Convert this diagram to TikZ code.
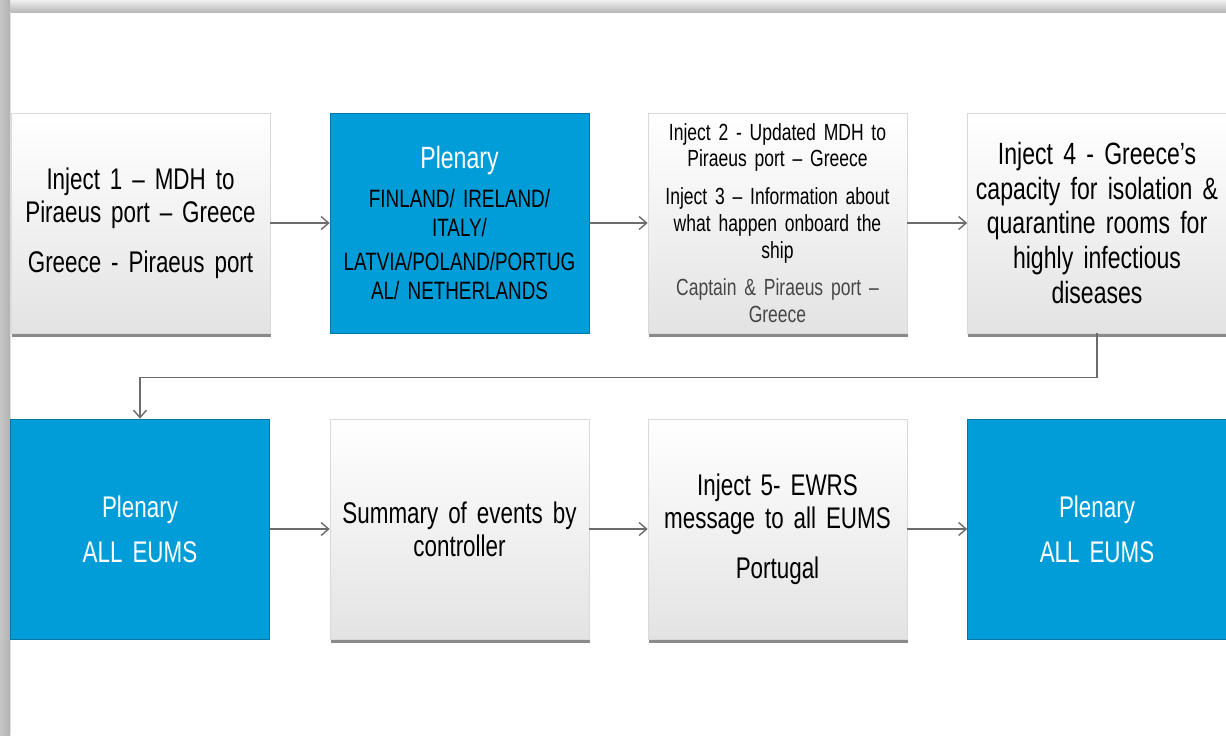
\documentclass[tikz,border=0pt]{standalone}
\usepackage{fontspec}
\setmainfont{Liberation Sans}[FakeStretch=0.75]
\usepackage{xcolor}
\usepackage{tikz}
\usetikzlibrary{positioning,arrows.meta,shadows}

\definecolor{plenblue}{RGB}{0,157,216}
\definecolor{plenedge}{RGB}{0,118,168}
\newcommand{\tightsp}{\spaceskip=0.17em plus 0.05em\relax}

\begin{document}
\begin{tikzpicture}[x=0.02cm,y=-0.02cm,
injbox/.style={draw=gray!30,top color=white,bottom color=gray!22,minimum width=5.18cm,minimum height=4.4cm,text width=4.9cm,align=center,inner sep=0pt,
  drop shadow={shadow xshift=0.5pt,shadow yshift=-2pt,opacity=0.7,fill=gray!70!black}},
plenbox/.style={draw=plenedge,fill=plenblue,minimum width=5.18cm,minimum height=4.4cm,text width=4.9cm,align=center,inner sep=0pt},
flow/.style={-{Straight Barb[length=1.5mm,width=2.6mm]},gray!85!black,line width=0.8pt},
bigtext/.style={font=\fontsize{17}{18.7}\selectfont\tightsp},
smalltext/.style={font=\fontsize{13.3}{15.2}\selectfont\tightsp}
]
\useasboundingbox (0,0) rectangle (1226,735);
\fill[white] (0,0) rectangle (1226,735);
% page frame
\shade[top color=gray!12,bottom color=gray!55] (0,0) rectangle (1226,12);
\shade[left color=gray!45,right color=gray!60] (0,0) rectangle (10,735);
\draw[gray!25] (10.5,12) -- (10.5,735);

% first row
\node[injbox,bigtext] (inj1) at (140.5,223) {Inject 1 -- MDH to\\Piraeus port -- Greece\\[9.6pt]Greece - Piraeus port};
\node[plenbox,font=\fontsize{14.3}{16.2}\selectfont\tightsp,text=black] (plen1) at (459.5,223) {{\fontsize{17.5}{19}\selectfont\color{white}Plenary}\\[6pt]FINLAND/ IRELAND/\\ITALY/\\[3.6pt]LATVIA/POLAND/PORTUG\\AL/ NETHERLANDS\\[2pt]};
\node[injbox,smalltext] (inj23) at (777.5,223) {Inject 2 - Updated MDH to\\Piraeus port -- Greece\\[6.3pt]Inject 3 -- Information about\\what happen onboard the\\ship\\[6.3pt]{\color{black!72}Captain \& Piraeus port --}\\{\color{black!72}Greece}};
\node[injbox,font=\fontsize{17.5}{19.8}\selectfont\tightsp] (inj4) at (1097,223) {Inject 4 - Greece's\\capacity for isolation \&\\quarantine rooms for\\highly infectious\\diseases};

% second row
\node[plenbox,bigtext,text=white] (plen2) at (140,529) {Plenary\\[7pt]ALL EUMS};
\node[injbox,bigtext] (summ) at (459.5,529) {Summary of events by\\controller};
\node[injbox,bigtext] (inj5) at (777.5,529) {Inject 5- EWRS\\message to all EUMS\\[9.6pt]Portugal};
\node[plenbox,bigtext,text=white] (plen3) at (1097,529) {Plenary\\[7pt]ALL EUMS};

\draw[flow] (inj1.east) -- (plen1.west);
\draw[flow] (plen1.east) -- (inj23.west);
\draw[flow] (inj23.east) -- (inj4.west);
\draw[flow] (inj4.south) -- ++(0,44) -| (plen2.north);
\draw[flow] (plen2.east) -- (summ.west);
\draw[flow] (summ.east) -- (inj5.west);
\draw[flow] (inj5.east) -- (plen3.west);
\end{tikzpicture}
\end{document}
